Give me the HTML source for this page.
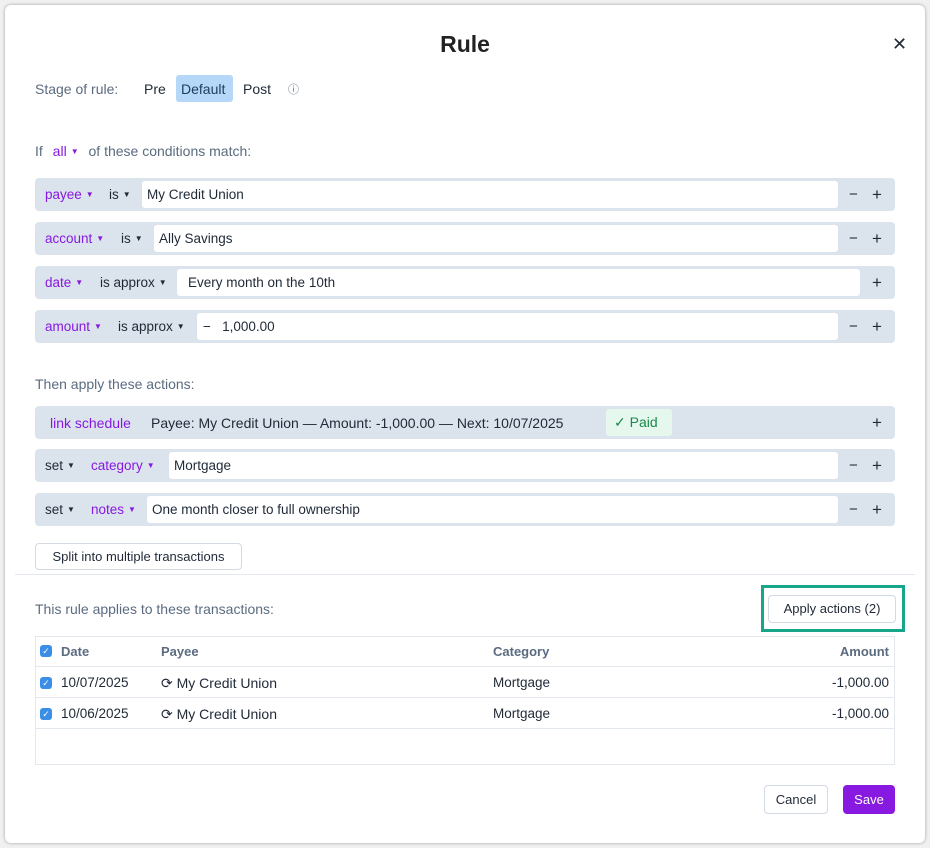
<!DOCTYPE html>
<html><head><style>
*{box-sizing:border-box;margin:0;padding:0}
body{width:930px;height:848px;background:#f0f0f0;font-family:"Liberation Sans",sans-serif;font-size:13.5px;color:#1f2937;position:relative;overflow:hidden}
.modal{position:absolute;left:5px;top:5px;width:920px;height:838px;background:#fff;border-radius:6px;box-shadow:0 0 3px rgba(0,0,0,.35)}
.a{position:absolute;white-space:nowrap}
.row{position:absolute;left:35px;width:860px;height:33px;background:#dbe3ec;border-radius:4px}
.inp{position:absolute;top:3px;height:27px;background:#fff;border-radius:3px;line-height:27px;padding-left:5px}
.p{color:#8719e0}
.g{color:#5b6b80}
.tri{font-size:8px;vertical-align:2px;margin-left:4px}
.btn{position:absolute;border:1px solid #d3dae3;border-radius:4px;background:#fff;text-align:center}
.cb{position:absolute;width:12px;height:12px;background:#3a8ee6;border-radius:3px;color:#fff;font-size:9px;line-height:12px;text-align:center}
.hl{position:absolute;left:36px;width:858px;height:1px;background:#e3e8ee}
.mn{position:absolute;left:814px;top:8px;font-size:15px}
.pl{position:absolute;left:837px;top:7px;font-size:17px}
.amt{position:absolute;right:36px;text-align:right}
</style></head><body>
<div class="modal"></div>
<div class="a" style="left:0;width:930px;top:31px;text-align:center;font-size:23px;font-weight:bold;color:#222">Rule</div>
<div class="a" style="left:892px;top:34px;font-size:18px">✕</div>
<div class="a g" style="left:35px;top:81px;font-size:14px">Stage of rule:</div>
<div class="a" style="left:144px;top:81px;font-size:14px">Pre</div>
<div class="a" style="left:176px;top:75px;width:57px;height:27px;background:#b5d8f8;border-radius:3px"></div>
<div class="a" style="left:181px;top:81px;color:#1f3b5c;font-size:14px">Default</div>
<div class="a" style="left:243px;top:81px;font-size:14px">Post</div>
<div class="a g" style="left:288px;top:81px;font-size:11px">ⓘ</div>
<div class="a g" style="left:35px;top:143px;font-size:14px">If <span class="p" style="margin-left:6px">all</span><span class="p tri">▼</span> <span style="margin-left:6px">of these conditions match:</span></div>

<div class="row" style="top:178px"><div class="a p" style="left:10px;top:9px">payee<span class="tri">▼</span></div><div class="a" style="left:74px;top:9px">is<span class="tri">▼</span></div><div class="inp" style="left:107px;width:696px">My Credit Union</div><div class="mn">−</div><div class="pl">+</div></div>
<div class="row" style="top:222px"><div class="a p" style="left:10px;top:9px">account<span class="tri">▼</span></div><div class="a" style="left:86px;top:9px">is<span class="tri">▼</span></div><div class="inp" style="left:119px;width:684px">Ally Savings</div><div class="mn">−</div><div class="pl">+</div></div>
<div class="row" style="top:266px"><div class="a p" style="left:10px;top:9px">date<span class="tri">▼</span></div><div class="a" style="left:65px;top:9px">is approx<span class="tri">▼</span></div><div class="inp" style="left:142px;width:683px;padding-left:11px">Every month on the 10th</div><div class="pl">+</div></div>
<div class="row" style="top:310px"><div class="a p" style="left:10px;top:9px">amount<span class="tri">▼</span></div><div class="a" style="left:83px;top:9px">is approx<span class="tri">▼</span></div><div class="inp" style="left:162px;width:641px;padding-left:6px">−&nbsp;&nbsp;&nbsp;1,000.00</div><div class="mn">−</div><div class="pl">+</div></div>

<div class="a g" style="left:35px;top:376px;font-size:14px">Then apply these actions:</div>
<div class="row" style="top:406px"><div class="a p" style="left:15px;top:9px;font-size:14px">link schedule</div><div class="a" style="left:116px;top:9px;font-size:14px">Payee: My Credit Union — Amount: -1,000.00 — Next: 10/07/2025</div><div class="a" style="left:571px;top:3px;width:66px;height:27px;background:#e6f7ee;border-radius:3px;color:#1a8a4a;line-height:27px;padding-left:8px;font-size:14px">✓ Paid</div><div class="pl">+</div></div>
<div class="row" style="top:449px"><div class="a" style="left:10px;top:9px">set<span class="tri">▼</span></div><div class="a p" style="left:56px;top:9px">category<span class="tri">▼</span></div><div class="inp" style="left:134px;width:669px">Mortgage</div><div class="mn">−</div><div class="pl">+</div></div>
<div class="row" style="top:493px"><div class="a" style="left:10px;top:9px">set<span class="tri">▼</span></div><div class="a p" style="left:56px;top:9px">notes<span class="tri">▼</span></div><div class="inp" style="left:112px;width:691px">One month closer to full ownership</div><div class="mn">−</div><div class="pl">+</div></div>

<div class="btn" style="left:35px;top:543px;width:207px;height:27px;line-height:25px;font-size:13px">Split into multiple transactions</div>
<div class="a" style="left:15px;top:574px;width:900px;height:1px;background:#e3e8ee"></div>
<div class="a g" style="left:35px;top:601px;font-size:14px">This rule applies to these transactions:</div>
<div class="a" style="left:761px;top:585px;width:144px;height:47px;border:3px solid #17a68a"></div>
<div class="btn" style="left:768px;top:595px;width:128px;height:28px;line-height:26px;font-size:13px">Apply actions (2)</div>

<div class="a" style="left:35px;top:636px;width:860px;height:129px;border:1px solid #e3e8ee"></div>
<div class="hl" style="top:666px"></div><div class="hl" style="top:697px"></div><div class="hl" style="top:728px"></div>
<div class="cb" style="left:40px;top:645px">✓</div><div class="a g" style="left:61px;top:644px;font-weight:bold;font-size:13px">Date</div>
<div class="a g" style="left:161px;top:644px;font-weight:bold;font-size:13px">Payee</div>
<div class="a g" style="left:493px;top:644px;font-weight:bold;font-size:13px">Category</div>
<div class="amt g" style="top:644px;font-weight:bold;font-size:13px;right:41px">Amount</div>
<div class="cb" style="left:40px;top:677px">✓</div><div class="a" style="left:61px;top:675px">10/07/2025</div><div class="a" style="left:161px;top:675px;font-size:14px">⟳ My Credit Union</div><div class="a" style="left:493px;top:675px">Mortgage</div><div class="amt" style="top:675px;right:41px">-1,000.00</div>
<div class="cb" style="left:40px;top:708px">✓</div><div class="a" style="left:61px;top:706px">10/06/2025</div><div class="a" style="left:161px;top:706px;font-size:14px">⟳ My Credit Union</div><div class="a" style="left:493px;top:706px">Mortgage</div><div class="amt" style="top:706px;right:41px">-1,000.00</div>

<div class="btn" style="left:764px;top:785px;width:64px;height:29px;line-height:27px;font-size:13px">Cancel</div>
<div class="a" style="left:843px;top:785px;width:52px;height:29px;background:#8719e0;border-radius:4px;color:#fff;text-align:center;line-height:29px;font-size:13px">Save</div>
</body></html>
